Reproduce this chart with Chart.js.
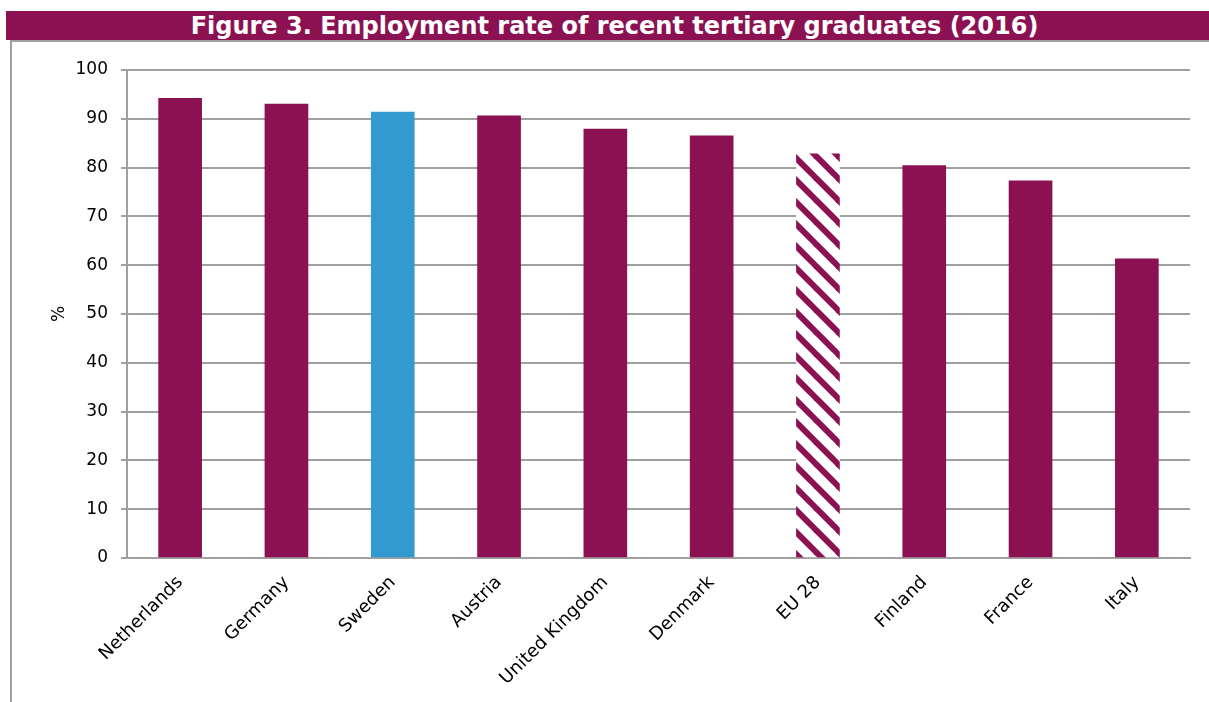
<!DOCTYPE html>
<html>
<head>
<meta charset="utf-8">
<script src="https://cdn.jsdelivr.net/npm/chart.js@4.4.0/dist/chart.umd.min.js"></script>
<style>
    body { margin: 0; background: #fff; }
    #wrap { position: relative; width: 1209px; height: 702px; overflow: hidden; }
    #title {
        position: absolute; left: 6px; top: 11px; width: 1203px; height: 29px;
        box-sizing: border-box; padding-left: 14px;
        background: #8C1152; color: #fff; text-align: center;
        font: bold 24px 'DejaVu Sans', Verdana, sans-serif; line-height: 30px;
        z-index: 2; white-space: nowrap;
    }
    #frame {
        position: absolute; left: 10px; top: 40px; width: 1199px; height: 662px;
        border-left: 2px solid #A0A0A0; border-top: 2px solid #A0A0A0;
        box-sizing: border-box; z-index: 1;
    }
    canvas { position: absolute; left: 0; top: 0; z-index: 3; }
</style>
</head>
<body>
<div id="wrap">
    <div id="title">Figure 3. Employment rate of recent tertiary graduates (2016)</div>
    <div id="frame"></div>
    <canvas id="chart" width="1209" height="702"></canvas>
</div>
<script>
// Data
const countries = ['Netherlands', 'Germany', 'Sweden', 'Austria', 'United Kingdom',
                   'Denmark', 'EU 28', 'Finland', 'France', 'Italy'];
const employmentRate = [94.2, 93.0, 91.4, 90.6, 87.9, 86.5, 82.8, 80.4, 77.3, 61.3];
const yTicks = [0, 10, 20, 30, 40, 50, 60, 70, 80, 90, 100];

const MAROON = '#8C1152';
const BLUE = '#339ACF';
const GRID = '#A0A0A0';

// Diagonal hatch for the EU average bar
function makeHatch() {
    const size = 22;
    const c = document.createElement('canvas');
    c.width = size; c.height = size;
    const g = c.getContext('2d');
    g.fillStyle = '#fff';
    g.fillRect(0, 0, size, size);
    g.strokeStyle = MAROON;
    g.lineWidth = 6;
    for (let k = -1; k <= 1; k++) {
        g.beginPath();
        g.moveTo(k * size - 2, -2);
        g.lineTo(k * size + size + 2, size + 2);
        g.stroke();
    }
    return g.createPattern(c, 'repeat');
}

const ctx = document.getElementById('chart').getContext('2d');
const hatch = makeHatch();

const barColors = countries.map(name => {
    if (name === 'Sweden') return BLUE;
    if (name === 'EU 28') return hatch;
    return MAROON;
});

new Chart(ctx, {
    type: 'bar',
    data: {
        labels: countries,
        datasets: [{
            data: employmentRate,
            backgroundColor: barColors,
            borderWidth: 0,
            barThickness: 43
        }]
    },
    options: {
        responsive: false,
        animation: false,
        layout: {
            padding: { left: 49, top: 70, right: 19, bottom: 0 }
        },
        plugins: {
            legend: { display: false },
            tooltip: { enabled: false }
        },
        scales: {
            x: {
                grid: { display: false, drawTicks: false },
                border: { display: true, color: GRID, width: 2 },
                ticks: {
                    color: '#000',
                    font: { family: "'DejaVu Sans', Verdana", size: 18 },
                    minRotation: 45,
                    maxRotation: 45,
                    padding: 14
                },
                afterFit: function (scale) { scale.height = 144; }
            },
            y: {
                min: 0,
                max: 100,
                afterBuildTicks: function (scale) {
                    scale.ticks = yTicks.map(v => ({ value: v }));
                },
                grid: {
                    color: GRID,
                    lineWidth: 2,
                    tickLength: 6,
                    drawTicks: true
                },
                border: { display: true, color: GRID, width: 2 },
                ticks: {
                    color: '#000',
                    font: { family: "'DejaVu Sans', Verdana", size: 17 },
                    padding: 13
                },
                title: {
                    display: true,
                    text: '%',
                    color: '#000',
                    font: { family: "'DejaVu Sans', Verdana", size: 17 },
                    padding: { top: 0, bottom: 0 }
                },
                afterFit: function (scale) { scale.width = 78; }
            }
        }
    }
});
</script>
</body>
</html>
